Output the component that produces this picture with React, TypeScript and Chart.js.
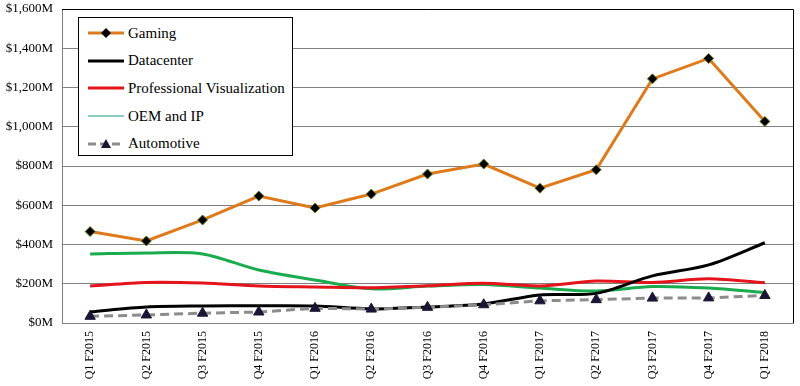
import React, { useEffect, useRef } from "react";
import { Chart, registerables } from "chart.js";

Chart.register(...registerables);

const categories = [
  "Q1 F2015", "Q2 F2015", "Q3 F2015", "Q4 F2015",
  "Q1 F2016", "Q2 F2016", "Q3 F2016", "Q4 F2016",
  "Q1 F2017", "Q2 F2017", "Q3 F2017", "Q4 F2017", "Q1 F2018",
];

const gaming = [466, 418, 525, 647, 586, 657, 759, 810, 687, 781, 1244, 1348, 1027];
const datacenter = [57, 82, 87, 88, 87, 72, 82, 97, 143, 151, 240, 296, 409];
const proVis = [189, 207, 204, 189, 184, 180, 190, 203, 189, 214, 207, 225, 205];
const oemIp = [352, 357, 352, 270, 219, 174, 188, 196, 178, 163, 186, 178, 155];
const automotive = [34, 41, 50, 56, 75, 71, 80, 93, 113, 119, 127, 128, 140];

const yTicks = [0, 200, 400, 600, 800, 1000, 1200, 1400, 1600];

const FONT = "'Liberation Serif', 'DejaVu Serif', serif";

const colors = {
  gaming: "#DF7A1C",
  datacenter: "#000000",
  proVis: "#E5141C",
  oem: "#1AAB4E",
  oemLegend: "#14A07E",
  auto: "#8C8C8C",
  autoMarker: "#1B1535",
};

const legendItems = [
  { label: "Gaming", kind: "gaming" },
  { label: "Datacenter", kind: "datacenter" },
  { label: "Professional Visualization", kind: "proVis" },
  { label: "OEM and IP", kind: "oem" },
  { label: "Automotive", kind: "auto" },
];

function LegendSample({ kind }: { kind: string }) {
  if (kind === "gaming") {
    return (
      <svg width={36} height={12}>
        <line x1={0} y1={6} x2={36} y2={6} stroke={colors.gaming} strokeWidth={3} />
        <polygon points="18,1 23,6 18,11 13,6" fill="#000" />
      </svg>
    );
  }
  if (kind === "datacenter") {
    return (
      <svg width={36} height={12}>
        <line x1={0} y1={6} x2={36} y2={6} stroke="#000" strokeWidth={3} />
      </svg>
    );
  }
  if (kind === "proVis") {
    return (
      <svg width={36} height={12}>
        <line x1={0} y1={6} x2={36} y2={6} stroke={colors.proVis} strokeWidth={3} />
      </svg>
    );
  }
  if (kind === "oem") {
    return (
      <svg width={36} height={12}>
        <line x1={0} y1={6} x2={36} y2={6} stroke={colors.oemLegend} strokeWidth={1} />
      </svg>
    );
  }
  return (
    <svg width={36} height={12}>
      <line x1={0} y1={6} x2={36} y2={6} stroke={colors.auto} strokeWidth={3} strokeDasharray="8,4" />
      <polygon points="18,1 23,10 13,10" fill={colors.autoMarker} />
    </svg>
  );
}

const borderPlugin = {
  id: "plotBorder",
  afterDraw(chart: any) {
    const { ctx, chartArea } = chart;
    ctx.save();
    ctx.strokeStyle = "#000";
    ctx.lineWidth = 1;
    ctx.beginPath();
    ctx.moveTo(chartArea.left, chartArea.top + 0.5);
    ctx.lineTo(chartArea.right + 0.5, chartArea.top + 0.5);
    ctx.lineTo(chartArea.right + 0.5, chartArea.bottom);
    ctx.stroke();
    ctx.restore();
  },
};

export default function App() {
  const canvasRef = useRef<HTMLCanvasElement | null>(null);

  useEffect(() => {
    if (!canvasRef.current) return;
    const chart = new Chart(canvasRef.current, {
      type: "line",
      data: {
        labels: categories,
        datasets: [
          {
            label: "OEM and IP",
            data: oemIp,
            borderColor: colors.oem,
            borderWidth: 3,
            pointRadius: 0,
            tension: 0.3,
            order: 4,
          },
          {
            label: "Professional Visualization",
            data: proVis,
            borderColor: colors.proVis,
            borderWidth: 3,
            pointRadius: 0,
            tension: 0.3,
            order: 3,
          },
          {
            label: "Datacenter",
            data: datacenter,
            borderColor: colors.datacenter,
            borderWidth: 3,
            pointRadius: 0,
            tension: 0.3,
            order: 2,
          },
          {
            label: "Automotive",
            data: automotive,
            borderColor: colors.auto,
            borderWidth: 3,
            borderDash: [9, 5],
            pointStyle: "triangle",
            pointRadius: 6,
            pointBackgroundColor: colors.autoMarker,
            pointBorderColor: colors.autoMarker,
            pointBorderWidth: 1,
            tension: 0,
            order: 1,
          },
          {
            label: "Gaming",
            data: gaming,
            borderColor: colors.gaming,
            borderWidth: 3,
            pointStyle: "rectRot",
            pointRadius: 5,
            pointBackgroundColor: "#000",
            pointBorderColor: "#6b7a1a",
            pointBorderWidth: 1,
            tension: 0,
            order: 0,
          },
        ],
      },
      options: {
        animation: false,
        responsive: false,
        maintainAspectRatio: false,
        layout: { padding: { top: 9, right: 4, left: 0, bottom: 0 } },
        plugins: {
          legend: { display: false },
          tooltip: { enabled: false },
        },
        scales: {
          x: {
            type: "category",
            offset: true,
            grid: { display: false, drawTicks: false },
            border: { color: "#808080", width: 1 },
            ticks: {
              minRotation: 90,
              maxRotation: 90,
              padding: 8,
              color: "#000",
              font: { family: FONT, size: 12 },
            },
            afterFit(scale: any) {
              scale.height = 63;
              scale.paddingLeft = 0;
              scale.paddingRight = 0;
            },
          },
          y: {
            min: 0,
            max: 1600,
            afterBuildTicks(scale: any) {
              scale.ticks = yTicks.map((v) => ({ value: v }));
            },
            grid: { color: "#808080", drawTicks: false, lineWidth: 1 },
            border: { color: "#808080", width: 1 },
            ticks: {
              padding: 9,
              color: "#000",
              font: { family: FONT, size: 13 },
              callback: (v: any) => "$" + Number(v).toLocaleString("en-US") + "M",
            },
            afterFit(scale: any) {
              scale.width = 62;
              scale.paddingTop = 0;
              scale.paddingBottom = 0;
            },
          },
        },
      },
      plugins: [borderPlugin],
    });
    return () => chart.destroy();
  }, []);

  return (
    <div style={{ position: "fixed", left: 0, top: 0, width: 800, height: 386, background: "#fff" }}>
      <canvas ref={canvasRef} width={800} height={386} style={{ display: "block" }} />
      <div
        style={{
          position: "absolute",
          left: 78,
          top: 17,
          width: 213,
          height: 137,
          border: "1px solid #000",
          background: "#fff",
          fontFamily: FONT,
          fontSize: 15,
          color: "#000",
        }}
      >
        {legendItems.map((it, i) => (
          <div
            key={it.label}
            style={{
              position: "absolute",
              left: 9,
              top: 5 + i * 27.7,
              height: 20,
              display: "flex",
              alignItems: "center",
              whiteSpace: "nowrap",
            }}
          >
            <LegendSample kind={it.kind} />
            <span style={{ marginLeft: 4 }}>{it.label}</span>
          </div>
        ))}
      </div>
    </div>
  );
}
